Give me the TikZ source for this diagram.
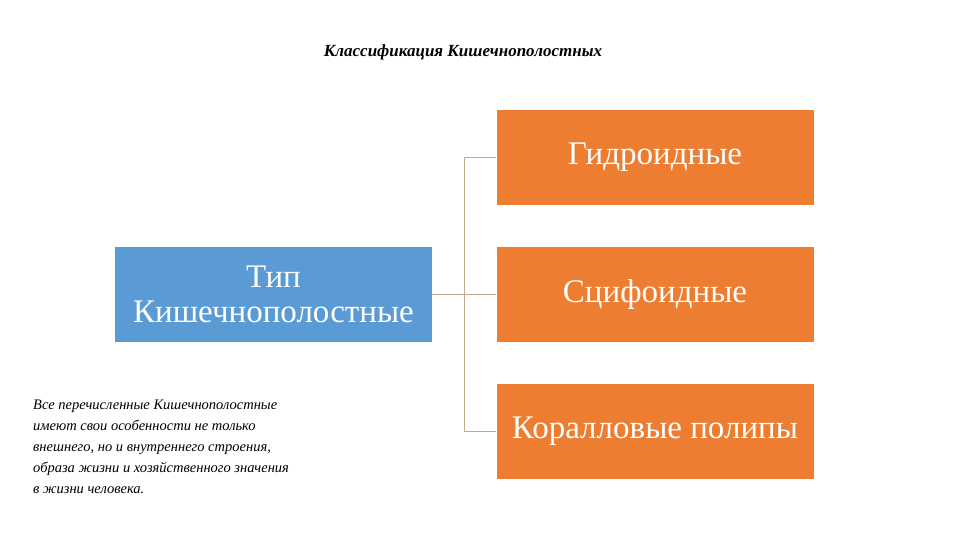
\documentclass[tikz,border=0pt]{standalone}
\usepackage{fontspec}
\setmainfont{Liberation Serif}
\definecolor{bbl}{HTML}{5B9BD5}
\definecolor{bor}{HTML}{ED7D31}
\definecolor{conn}{HTML}{C9A88A}
\begin{document}
\begin{tikzpicture}[x=1pt,y=-1pt,
  box/.style={minimum width=317pt,minimum height=95pt,inner sep=0pt,text=white,font=\fontsize{33}{35}\selectfont,align=center},
  orbox/.style={box,fill=bor},
  link/.style={draw=conn,line width=0.8pt}]
\useasboundingbox (0,0) rectangle (960,540);
\node (title) at (463,52) {\fontsize{17}{20}\selectfont\bfseries\itshape Классификация Кишечнополостных};
\node[box,fill=bbl] (typ) at (273.5,294.5) {Тип\\Кишечнополостные};
\node[orbox] (g) at (655,157.5) {Гидроидные};
\node[orbox] (s) at (655,294.5) {Сцифоидные};
\node[orbox] (k) at (655,431) {Коралловые полипы};
\coordinate (j) at (465,294.5);
\draw[link] (typ.east) -- (j);
\draw[link] (g.west) -- ++(-32,0) |- (k.west);
\draw[link] (j) -- (s.west);
\node[anchor=north west,align=left,font=\fontsize{14.5}{21}\selectfont\itshape,inner sep=0pt] (p) at (33,400) {Все перечисленные Кишечнополостные\\имеют свои особенности не только\\внешнего, но и внутреннего строения,\\образа жизни и хозяйственного значения\\в жизни человека.};
\end{tikzpicture}
\end{document}
